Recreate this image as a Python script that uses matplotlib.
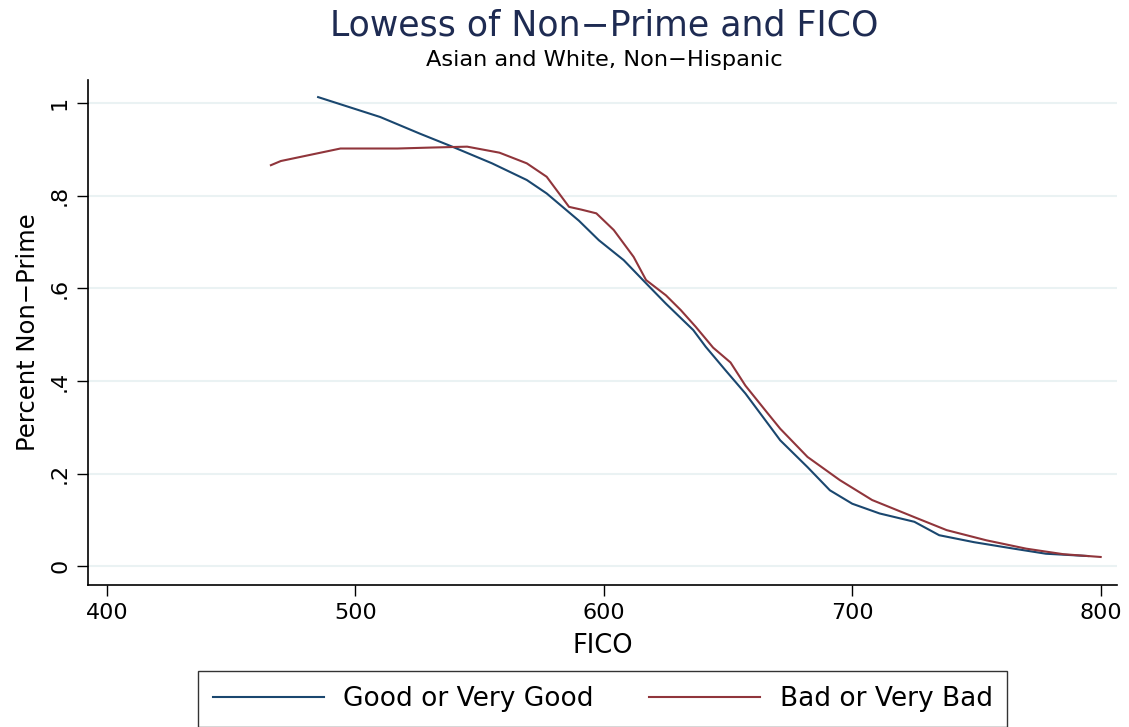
import matplotlib
matplotlib.use('Agg')
import matplotlib.pyplot as plt

# lowess curves (FICO score, share non-prime)
good_fico = [485, 510, 526, 539, 555, 569, 577, 590, 598, 608, 617, 625, 636, 641,
             649, 657, 667, 671, 682, 691, 700, 711, 725, 735, 749, 765, 778, 795]
good_share = [1.013, 0.970, 0.934, 0.906, 0.870, 0.834, 0.805, 0.746, 0.704, 0.661,
              0.611, 0.567, 0.510, 0.474, 0.423, 0.373, 0.301, 0.272, 0.214, 0.164,
              0.135, 0.114, 0.096, 0.067, 0.052, 0.038, 0.027, 0.022]

bad_fico = [466, 470, 494, 517, 530, 545, 558, 569, 577, 586, 591, 597, 604, 612, 617,
            625, 631, 637, 644, 651, 657, 666, 671, 682, 695, 708, 725, 738, 754, 770,
            785, 800]
bad_share = [0.866, 0.875, 0.902, 0.902, 0.904, 0.906, 0.893, 0.870, 0.841, 0.776,
             0.770, 0.762, 0.726, 0.668, 0.618, 0.585, 0.553, 0.517, 0.472, 0.440,
             0.390, 0.330, 0.297, 0.236, 0.186, 0.143, 0.106, 0.078, 0.056, 0.038,
             0.026, 0.020]

x_ticks = [400, 500, 600, 700, 800]
y_ticks = [0, 0.2, 0.4, 0.6, 0.8, 1]
y_labels = ['0', '.2', '.4', '.6', '.8', '1']

fig = plt.figure(figsize=(11.29, 7.27), dpi=100)
ax = fig.add_axes([0.078, 0.195, 0.911, 0.695])

ax.plot(good_fico, good_share, color='#1a476f', lw=1.5, label='Good or Very Good')
ax.plot(bad_fico, bad_share, color='#90353b', lw=1.5, label='Bad or Very Bad')

ax.set_xlim(392.4, 806.4)
ax.set_ylim(-0.041, 1.05)
ax.set_xticks(x_ticks)
ax.set_yticks(y_ticks)
ax.set_yticklabels(y_labels, rotation=90, va='center')

# horizontal grid only, stata style
for y in y_ticks:
    ax.axhline(y, color='#eaf2f3', lw=1.5, zorder=0)

for side in ['top', 'right']:
    ax.spines[side].set_visible(False)
for side in ['left', 'bottom']:
    ax.spines[side].set_linewidth(1.2)

ax.tick_params(axis='both', direction='out', length=8, width=1, labelsize=16, pad=5)
ax.set_xlabel('FICO', fontsize=18.5, labelpad=7)
ax.set_ylabel('Percent Non\u2212Prime', fontsize=17.5, labelpad=7)

fig.text(0.535, 0.965, 'Lowess of Non\u2212Prime and FICO', ha='center', va='center',
         fontsize=25, color='#1e2b52')
fig.text(0.535, 0.917, 'Asian and White, Non\u2212Hispanic', ha='center', va='center',
         fontsize=16.2)

leg = fig.legend(loc='center', bbox_to_anchor=(0.534, 0.0385), ncol=2, fontsize=19,
                 handlelength=4.2, handletextpad=0.75, columnspacing=2.1,
                 frameon=True, fancybox=False, borderpad=0.55)
leg.get_frame().set_edgecolor('black')
leg.get_frame().set_linewidth(1.0)

fig.savefig('out.png', dpi=100)
